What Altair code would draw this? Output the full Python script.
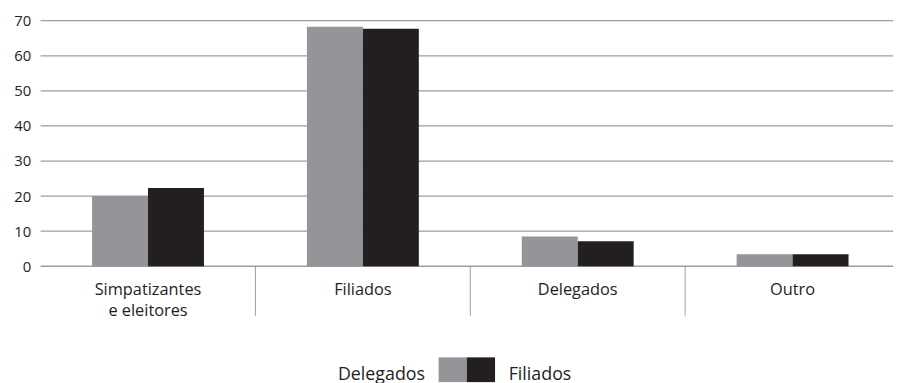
import altair as alt
import pandas as pd

categories = ["Simpatizantes e eleitores", "Filiados", "Delegados", "Outro"]
series = ["Delegados", "Filiados"]
delegados = [20.0, 68.3, 8.5, 3.4]
filiados = [22.3, 67.7, 7.1, 3.4]
y_ticks = [0, 10, 20, 30, 40, 50, 60, 70]
colors = ["#939598", "#231f20"]

rows = []
for c, d, f in zip(categories, delegados, filiados):
    rows.append({"cat": c, "serie": "Delegados", "valor": d})
    rows.append({"cat": c, "serie": "Filiados", "valor": f})
df = pd.DataFrame(rows)
sep = pd.DataFrame({"cat": categories[1:]})
grid_df = pd.DataFrame({"v": y_ticks})
leg_df = pd.DataFrame({"serie": series})

FONT = "Open Sans"
TEXT = "#231f20"
GRID = "#9d9d9d"

xscale = alt.Scale(domain=categories, range=[0, 868], paddingInner=0, paddingOuter=0)
yscale = alt.Scale(domain=[0, 70], nice=False)
cscale = alt.Scale(domain=series, range=colors)

label_expr = ("datum.label == 'Simpatizantes e eleitores' ? "
              "['Simpatizantes', 'e eleitores'] : datum.label")


def yaxis():
    return alt.Axis(values=y_ticks, title=None, ticks=False, domain=False,
                    grid=False, labelFontSize=15, labelPadding=10,
                    labelColor=TEXT, labelFont=FONT)


grid = alt.Chart(grid_df).mark_rule(color=GRID, strokeWidth=1.3).encode(
    y=alt.Y("v:Q", scale=yscale, axis=yaxis(), title=None),
)

bars = alt.Chart(df).mark_bar().encode(
    x=alt.X("cat:N", scale=xscale, sort=categories,
            axis=alt.Axis(title=None, ticks=False, domain=False, labelAngle=0,
                          labelFontSize=16.5, labelPadding=16, labelLineHeight=21,
                          labelBaseline="top", labelExpr=label_expr,
                          labelColor=TEXT, labelFont=FONT)),
    xOffset=alt.XOffset("serie:N", sort=series,
                        scale=alt.Scale(paddingInner=0, paddingOuter=0.92)),
    y=alt.Y("valor:Q", scale=yscale, axis=yaxis(), title=None),
    color=alt.Color("serie:N", scale=cscale, legend=None),
)

rules = alt.Chart(sep).mark_rule(color=GRID, strokeWidth=1).encode(
    x=alt.X("cat:N", scale=xscale, bandPosition=0),
    y=alt.value(248),
    y2=alt.value(298),
)

main = alt.layer(grid, bars, rules).properties(width=861, height=248)

lx = alt.X("serie:N", sort=series,
           scale=alt.Scale(domain=series, paddingInner=0, paddingOuter=0),
           axis=None)
rect = alt.Chart(leg_df).mark_rect().encode(
    x=lx, color=alt.Color("serie:N", scale=cscale, legend=None))
tl = alt.Chart(leg_df).transform_filter(alt.datum.serie == "Delegados").mark_text(
    align="right", baseline="middle", dx=-28, dy=5, fontSize=18, font=FONT, color=TEXT
).encode(x=lx, text="serie:N")
tr = alt.Chart(leg_df).transform_filter(alt.datum.serie == "Filiados").mark_text(
    align="left", baseline="middle", dx=28, dy=5, fontSize=18, font=FONT, color=TEXT
).encode(x=lx, text="serie:N")
legend = alt.layer(rect, tl, tr).properties(width=57, height=25)

chart = alt.vconcat(main, legend, spacing=92, center=True, bounds="flush").properties(
    padding={"left": 13, "top": 12, "right": 0, "bottom": 0}
).configure(font=FONT, background="white").configure_view(stroke=None)

chart.save("out.html", embed_options={"renderer": "svg", "actions": False})
